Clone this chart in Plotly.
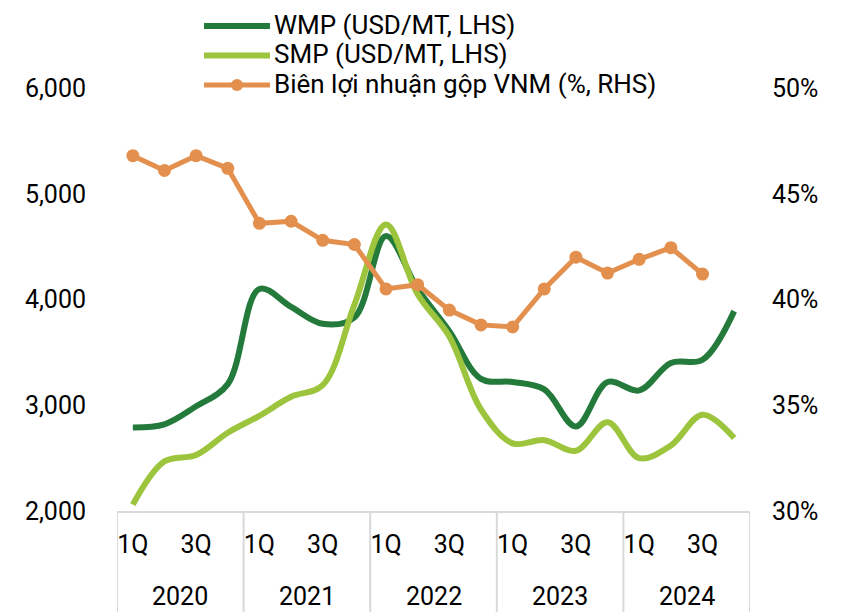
import plotly.graph_objects as go

# ---- data ----
years = ["2020", "2021", "2022", "2023", "2024"]
quarters = ["1Q", "2Q", "3Q", "4Q"]
quarter_ticks = ["1Q", "", "3Q", ""]
wmp = [2790, 2820, 2990, 3200, 4100, 3930, 3770, 3830, 4600, 4100, 3700, 3250,
       3220, 3150, 2800, 3220, 3140, 3400, 3430, 3890]
smp = [2060, 2470, 2530, 2740, 2900, 3080, 3190, 3950, 4710, 4050, 3650, 2960,
       2640, 2670, 2570, 2840, 2500, 2620, 2910, 2690]
gm = [46.8, 46.1, 46.8, 46.2, 43.6, 43.7, 42.8, 42.6, 40.5, 40.7, 39.5, 38.8,
      38.7, 40.5, 42.0, 41.25, 41.9, 42.45, 41.2]
names = ["WMP (USD/MT, LHS)", "SMP (USD/MT, LHS)", "Biên lợi nhuận gộp VNM (%, RHS)"]

# ---- styles ----
C_WMP = "#237a3b"
C_SMP = "#9cc43c"
C_GM = "#e3904e"
GRID = "#d9d9d9"
FONT = "Roboto"
TICK_SIZE = 25
LEG_SIZE = 26

n = len(years) * len(quarters)
x_all = list(range(n))
tick_vals = [i for i in x_all]
tick_text = [quarter_ticks[i % 4] for i in x_all]

fig = go.Figure()
fig.add_trace(go.Scatter(x=x_all, y=wmp, mode="lines", name=names[0],
                         line=dict(color=C_WMP, width=6, shape="spline", smoothing=1.0),
                         yaxis="y"))
fig.add_trace(go.Scatter(x=x_all, y=smp, mode="lines", name=names[1],
                         line=dict(color=C_SMP, width=6, shape="spline", smoothing=1.0),
                         yaxis="y"))
fig.add_trace(go.Scatter(x=x_all[:len(gm)], y=gm, mode="lines+markers", name=names[2],
                         line=dict(color=C_GM, width=5),
                         marker=dict(color=C_GM, size=13),
                         yaxis="y2"))

# plot area in px: x 117..750, y 88..511
L, R, T, B = 117, 750, 88, 511
W, H = 868, 614
pw, ph = R - L, B - T
def px(xp):
    return (xp - L) / pw
def py(yp):
    return (B - yp) / ph

shapes = []
# year separators
for k in range(len(years) + 1):
    xs = k * len(quarters) - 0.5
    shapes.append(dict(type="line", xref="x", yref="paper", x0=xs, x1=xs,
                       y0=0, y1=py(612), line=dict(color=GRID, width=2)))

annotations = []
for k, yr in enumerate(years):
    annotations.append(dict(x=k * len(quarters) + 1.5, y=py(596), xref="x", yref="paper",
                            text=yr, showarrow=False, xanchor="center", yanchor="middle",
                            font=dict(family=FONT, size=TICK_SIZE, color="black")))

# custom legend
leg_rows = [26, 55.5, 85]
leg_colors = [C_WMP, C_SMP, C_GM]
for i, (nm, col, ry) in enumerate(zip(names, leg_colors, leg_rows)):
    shapes.append(dict(type="line", xref="paper", yref="paper",
                       x0=px(204), x1=px(270), y0=py(ry), y1=py(ry),
                       line=dict(color=col, width=6 if i < 2 else 5)))
    if i == 2:
        shapes.append(dict(type="circle", xref="paper", yref="paper",
                           x0=px(231), x1=px(243), y0=py(ry + 6), y1=py(ry - 6),
                           fillcolor=col, line=dict(color=col, width=0)))
    annotations.append(dict(x=px(272), y=py(ry - 1), xref="paper", yref="paper",
                            text=nm, showarrow=False, xanchor="left", yanchor="middle",
                            font=dict(family=FONT, size=LEG_SIZE, color="black")))

fig.update_layout(
    width=W, height=H,
    margin=dict(l=L, r=W - R, t=T, b=H - B),
    paper_bgcolor="white", plot_bgcolor="white",
    showlegend=False,
    font=dict(family=FONT, size=TICK_SIZE, color="black"),
    xaxis=dict(range=[-0.5, n - 0.5], tickmode="array", tickvals=tick_vals,
               ticktext=tick_text, showgrid=False, zeroline=False,
               showline=True, linecolor=GRID, linewidth=2,
               ticks="", ticklabelstandoff=10,
               tickfont=dict(family=FONT, size=TICK_SIZE, color="black")),
    yaxis=dict(range=[2000, 6000], dtick=1000, tickformat=",", showgrid=False,
               zeroline=False, showline=False, ticks="", ticklabelstandoff=30,
               tickfont=dict(family=FONT, size=TICK_SIZE, color="black")),
    yaxis2=dict(range=[30, 50], dtick=5, ticksuffix="%", overlaying="y", side="right",
                showgrid=False, zeroline=False, showline=False, ticks="",
                ticklabelstandoff=21,
                tickfont=dict(family=FONT, size=TICK_SIZE, color="black")),
    shapes=shapes,
    annotations=annotations,
)

fig.write_html("out.html")
